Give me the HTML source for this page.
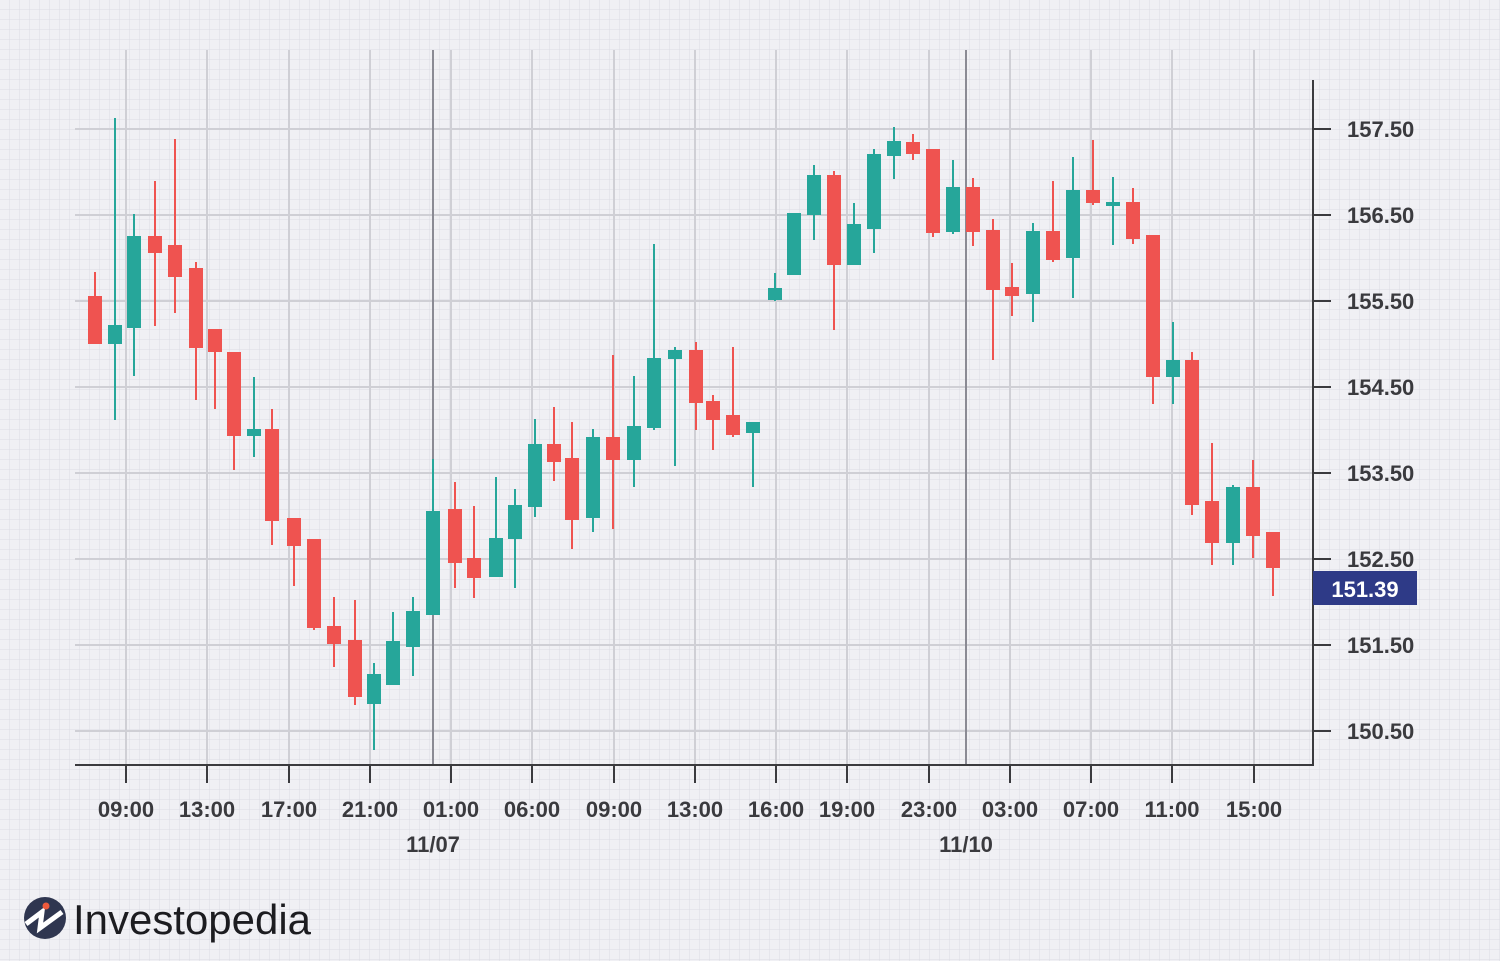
<!DOCTYPE html>
<html><head><meta charset="utf-8"><style>
html,body{margin:0;padding:0;background:#f0f0f4;}
svg{display:block;font-family:"Liberation Sans",sans-serif;}
</style></head><body>
<svg width="1500" height="961" viewBox="0 0 1500 961" xmlns="http://www.w3.org/2000/svg">
<defs>
<pattern id="fg" width="10" height="10" patternUnits="userSpaceOnUse">
<path d="M10 0V10M0 10H10" stroke="#dcdce4" stroke-width="1" fill="none"/>
</pattern>
</defs>
<rect width="1500" height="961" fill="#f0f0f4"/>
<rect width="1500" height="961" fill="url(#fg)"/>
<g stroke="#cfcfd5" stroke-width="2">
<line x1="126" y1="50" x2="126" y2="765"/><line x1="207" y1="50" x2="207" y2="765"/><line x1="289" y1="50" x2="289" y2="765"/><line x1="370" y1="50" x2="370" y2="765"/><line x1="451" y1="50" x2="451" y2="765"/><line x1="532" y1="50" x2="532" y2="765"/><line x1="614" y1="50" x2="614" y2="765"/><line x1="695" y1="50" x2="695" y2="765"/><line x1="776" y1="50" x2="776" y2="765"/><line x1="847" y1="50" x2="847" y2="765"/><line x1="929" y1="50" x2="929" y2="765"/><line x1="1010" y1="50" x2="1010" y2="765"/><line x1="1091" y1="50" x2="1091" y2="765"/><line x1="1172" y1="50" x2="1172" y2="765"/><line x1="1254" y1="50" x2="1254" y2="765"/>
<line x1="75" y1="129" x2="1313" y2="129"/><line x1="75" y1="215" x2="1313" y2="215"/><line x1="75" y1="301" x2="1313" y2="301"/><line x1="75" y1="387" x2="1313" y2="387"/><line x1="75" y1="473" x2="1313" y2="473"/><line x1="75" y1="559" x2="1313" y2="559"/><line x1="75" y1="645" x2="1313" y2="645"/><line x1="75" y1="731" x2="1313" y2="731"/>
</g>
<g stroke="#8a8a94" stroke-width="2"><line x1="433" y1="50" x2="433" y2="765"/><line x1="966" y1="50" x2="966" y2="765"/></g>
<g stroke="#3a3a3e" stroke-width="2" fill="none">
<path d="M75 765H1313V80"/>
<path d="M126 765v18M207 765v18M289 765v18M370 765v18M451 765v18M532 765v18M614 765v18M695 765v18M776 765v18M847 765v18M929 765v18M1010 765v18M1091 765v18M1172 765v18M1254 765v18"/>
<path d="M1313 129h18M1313 215h18M1313 301h18M1313 387h18M1313 473h18M1313 559h18M1313 645h18M1313 731h18"/>
</g>
<g stroke-width="2">
<g stroke="#ef5350" fill="#ef5350">
<line x1="95" y1="272" x2="95" y2="343"/><rect x="89" y="297" width="12" height="46"/>
<line x1="155" y1="181" x2="155" y2="326"/><rect x="149" y="237" width="12" height="15"/>
<line x1="175" y1="139" x2="175" y2="313"/><rect x="169" y="246" width="12" height="30"/>
<line x1="196" y1="262" x2="196" y2="400"/><rect x="190" y="269" width="12" height="78"/>
<line x1="215" y1="330" x2="215" y2="409"/><rect x="209" y="330" width="12" height="21"/>
<line x1="234" y1="353" x2="234" y2="470"/><rect x="228" y="353" width="12" height="82"/>
<line x1="272" y1="409" x2="272" y2="545"/><rect x="266" y="430" width="12" height="90"/>
<line x1="294" y1="519" x2="294" y2="586"/><rect x="288" y="519" width="12" height="26"/>
<line x1="314" y1="540" x2="314" y2="630"/><rect x="308" y="540" width="12" height="87"/>
<line x1="334" y1="597" x2="334" y2="667"/><rect x="328" y="627" width="12" height="16"/>
<line x1="355" y1="600" x2="355" y2="705"/><rect x="349" y="641" width="12" height="55"/>
<line x1="455" y1="482" x2="455" y2="588"/><rect x="449" y="510" width="12" height="52"/>
<line x1="474" y1="506" x2="474" y2="598"/><rect x="468" y="559" width="12" height="18"/>
<line x1="554" y1="407" x2="554" y2="481"/><rect x="548" y="445" width="12" height="16"/>
<line x1="572" y1="422" x2="572" y2="549"/><rect x="566" y="459" width="12" height="60"/>
<line x1="613" y1="355" x2="613" y2="529"/><rect x="607" y="438" width="12" height="21"/>
<line x1="696" y1="342" x2="696" y2="430"/><rect x="690" y="351" width="12" height="51"/>
<line x1="713" y1="395" x2="713" y2="450"/><rect x="707" y="402" width="12" height="17"/>
<line x1="733" y1="347" x2="733" y2="437"/><rect x="727" y="416" width="12" height="18"/>
<line x1="834" y1="171" x2="834" y2="330"/><rect x="828" y="176" width="12" height="88"/>
<line x1="913" y1="134" x2="913" y2="160"/><rect x="907" y="143" width="12" height="10"/>
<line x1="933" y1="150" x2="933" y2="237"/><rect x="927" y="150" width="12" height="82"/>
<line x1="973" y1="178" x2="973" y2="246"/><rect x="967" y="188" width="12" height="43"/>
<line x1="993" y1="219" x2="993" y2="360"/><rect x="987" y="231" width="12" height="58"/>
<line x1="1012" y1="263" x2="1012" y2="316"/><rect x="1006" y="288" width="12" height="7"/>
<line x1="1053" y1="181" x2="1053" y2="262"/><rect x="1047" y="232" width="12" height="27"/>
<line x1="1093" y1="140" x2="1093" y2="205"/><rect x="1087" y="191" width="12" height="11"/>
<line x1="1133" y1="188" x2="1133" y2="244"/><rect x="1127" y="203" width="12" height="35"/>
<line x1="1153" y1="236" x2="1153" y2="404"/><rect x="1147" y="236" width="12" height="140"/>
<line x1="1192" y1="352" x2="1192" y2="515"/><rect x="1186" y="361" width="12" height="143"/>
<line x1="1212" y1="443" x2="1212" y2="565"/><rect x="1206" y="502" width="12" height="40"/>
<line x1="1253" y1="460" x2="1253" y2="558"/><rect x="1247" y="488" width="12" height="47"/>
<line x1="1273" y1="533" x2="1273" y2="596"/><rect x="1267" y="533" width="12" height="34"/>
</g>
<g stroke="#26a69a" fill="#26a69a">
<line x1="115" y1="118" x2="115" y2="420"/><rect x="109" y="326" width="12" height="17"/>
<line x1="134" y1="214" x2="134" y2="376"/><rect x="128" y="237" width="12" height="90"/>
<line x1="254" y1="377" x2="254" y2="457"/><rect x="248" y="430" width="12" height="5"/>
<line x1="374" y1="663" x2="374" y2="750"/><rect x="368" y="675" width="12" height="28"/>
<line x1="393" y1="612" x2="393" y2="684"/><rect x="387" y="642" width="12" height="42"/>
<line x1="413" y1="597" x2="413" y2="676"/><rect x="407" y="612" width="12" height="34"/>
<line x1="433" y1="459" x2="433" y2="614"/><rect x="427" y="512" width="12" height="102"/>
<line x1="496" y1="477" x2="496" y2="576"/><rect x="490" y="539" width="12" height="37"/>
<line x1="515" y1="489" x2="515" y2="588"/><rect x="509" y="506" width="12" height="32"/>
<line x1="535" y1="419" x2="535" y2="517"/><rect x="529" y="445" width="12" height="61"/>
<line x1="593" y1="429" x2="593" y2="532"/><rect x="587" y="438" width="12" height="79"/>
<line x1="634" y1="376" x2="634" y2="487"/><rect x="628" y="427" width="12" height="32"/>
<line x1="654" y1="244" x2="654" y2="430"/><rect x="648" y="359" width="12" height="68"/>
<line x1="675" y1="347" x2="675" y2="466"/><rect x="669" y="351" width="12" height="7"/>
<line x1="753" y1="423" x2="753" y2="487"/><rect x="747" y="423" width="12" height="9"/>
<line x1="775" y1="273" x2="775" y2="301"/><rect x="769" y="289" width="12" height="10"/>
<line x1="794" y1="214" x2="794" y2="274"/><rect x="788" y="214" width="12" height="60"/>
<line x1="814" y1="165" x2="814" y2="240"/><rect x="808" y="176" width="12" height="38"/>
<line x1="854" y1="203" x2="854" y2="264"/><rect x="848" y="225" width="12" height="39"/>
<line x1="874" y1="149" x2="874" y2="253"/><rect x="868" y="155" width="12" height="73"/>
<line x1="894" y1="127" x2="894" y2="179"/><rect x="888" y="142" width="12" height="13"/>
<line x1="953" y1="160" x2="953" y2="234"/><rect x="947" y="188" width="12" height="43"/>
<line x1="1033" y1="223" x2="1033" y2="322"/><rect x="1027" y="232" width="12" height="61"/>
<line x1="1073" y1="157" x2="1073" y2="298"/><rect x="1067" y="191" width="12" height="66"/>
<line x1="1113" y1="177" x2="1113" y2="245"/><rect x="1107" y="203" width="12" height="2"/>
<line x1="1173" y1="322" x2="1173" y2="404"/><rect x="1167" y="361" width="12" height="15"/>
<line x1="1233" y1="485" x2="1233" y2="565"/><rect x="1227" y="488" width="12" height="54"/>
</g>
</g>
<g fill="#3a3a3e" font-size="22" font-weight="bold">
<g text-anchor="start">
<text x="1347" y="137">157.50</text><text x="1347" y="223">156.50</text><text x="1347" y="309">155.50</text><text x="1347" y="395">154.50</text><text x="1347" y="481">153.50</text><text x="1347" y="567">152.50</text><text x="1347" y="653">151.50</text><text x="1347" y="739">150.50</text>
</g>
<g text-anchor="middle">
<text x="126" y="817">09:00</text><text x="207" y="817">13:00</text><text x="289" y="817">17:00</text><text x="370" y="817">21:00</text><text x="451" y="817">01:00</text><text x="532" y="817">06:00</text><text x="614" y="817">09:00</text><text x="695" y="817">13:00</text><text x="776" y="817">16:00</text><text x="847" y="817">19:00</text><text x="929" y="817">23:00</text><text x="1010" y="817">03:00</text><text x="1091" y="817">07:00</text><text x="1172" y="817">11:00</text><text x="1254" y="817">15:00</text>
<text x="433" y="852">11/07</text><text x="966" y="852">11/10</text>
</g>
</g>
<rect x="1313" y="571" width="104" height="34" fill="#2e3a87"/>
<text x="1365" y="597" text-anchor="middle" fill="#ffffff" font-size="22" font-weight="bold">151.39</text>
<circle cx="45" cy="918" r="21" fill="#2f3650"/>
<path d="M26 924 L42 912 L40 928 L62 912" stroke="#ffffff" stroke-width="5" fill="none"/>
<circle cx="46" cy="906" r="3.5" fill="#ef5a3c"/>
<text x="73" y="934" fill="#1c1c20" font-size="42" textLength="238" lengthAdjust="spacingAndGlyphs">Investopedia</text>
</svg>
</body></html>
